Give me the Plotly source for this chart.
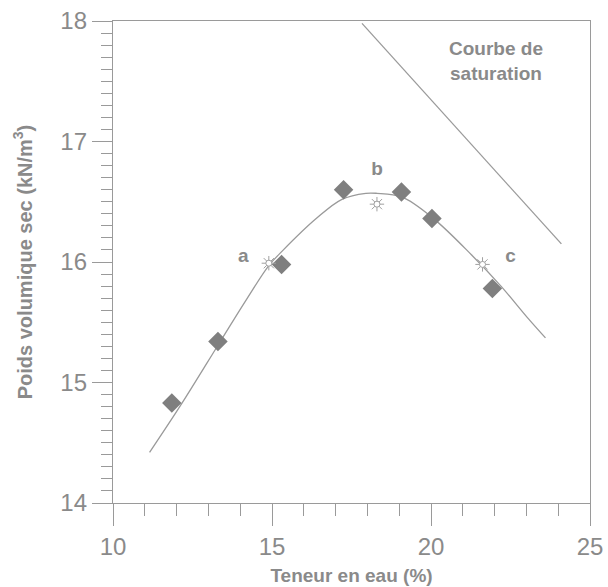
import plotly.graph_objects as go

# Measured points (diamonds)
meas_x = [11.85, 13.3, 15.3, 17.25, 19.07, 20.03, 21.93]
meas_y = [14.83, 15.34, 15.98, 16.6, 16.58, 16.36, 15.78]

# Points a, b, c (open star markers)
abc_x = [14.9, 18.3, 21.62]
abc_y = [15.99, 16.48, 15.98]
abc_labels = ["a", "b", "c"]
abc_label_x = [14.1, 18.3, 22.5]
abc_label_y = [16.04, 16.76, 16.04]

# Compaction curve
curve_x = [11.15, 12.15, 13.35, 14.2, 14.9, 15.32, 16.39, 17.2, 17.95, 18.3, 19.08, 20.08, 21.27, 22.2, 23.06, 23.6]
curve_y = [14.42, 14.82, 15.33, 15.69, 15.97, 16.09, 16.36, 16.52, 16.57, 16.57, 16.54, 16.36, 16.06, 15.80, 15.53, 15.37]

# Saturation line
sat_x = [17.83, 24.1]
sat_y = [17.98, 16.15]

x_ticks = [10, 15, 20, 25]
y_ticks = [14, 15, 16, 17, 18]

GRAY_TXT = "#8a8a8a"
GRAY_LINE = "#9a9a9a"
FONT = "Liberation Sans, Arial, sans-serif"

fig = go.Figure()
fig.add_trace(go.Scatter(x=curve_x, y=curve_y, mode="lines",
                         line=dict(color=GRAY_LINE, width=1.3, shape="spline", smoothing=1.0),
                         hoverinfo="skip", showlegend=False))
fig.add_trace(go.Scatter(x=sat_x, y=sat_y, mode="lines",
                         line=dict(color=GRAY_LINE, width=1.3),
                         hoverinfo="skip", showlegend=False))
fig.add_trace(go.Scatter(x=meas_x, y=meas_y, mode="markers",
                         marker=dict(symbol="diamond", size=15, color="#7f7f7f",
                                     line=dict(width=0)),
                         showlegend=False))
fig.add_trace(go.Scatter(x=abc_x, y=abc_y, mode="markers",
                         marker=dict(symbol="asterisk-open", size=12, color="#a0a0a0",
                                     line=dict(color="#a0a0a0", width=1)),
                         showlegend=False))
fig.add_trace(go.Scatter(x=abc_x, y=abc_y, mode="markers",
                         marker=dict(symbol="circle", size=6, color="white",
                                     line=dict(color="#a0a0a0", width=1)),
                         showlegend=False))
fig.add_trace(go.Scatter(x=abc_label_x, y=abc_label_y, mode="text", text=abc_labels,
                         textfont=dict(family=FONT, size=19, color=GRAY_TXT, weight="bold"),
                         showlegend=False))

fig.add_annotation(x=22.05, y=17.67, xref="x", yref="y",
                   text="Courbe de<br>saturation", showarrow=False,
                   font=dict(family=FONT, size=19, color=GRAY_TXT, weight="bold"),
                   align="center")

fig.update_layout(
    width=608, height=587,
    margin=dict(l=113, r=18, t=21, b=84),
    paper_bgcolor="white", plot_bgcolor="white",
    font=dict(family=FONT, color=GRAY_TXT),
    showlegend=False,
)
fig.update_xaxes(
    range=[10, 25], tickvals=x_ticks, ticktext=[str(v) for v in x_ticks],
    showgrid=False, zeroline=False,
    showline=True, linecolor=GRAY_LINE, linewidth=1.3, mirror=True,
    ticks="outside", ticklen=22, tickcolor=GRAY_LINE, tickwidth=1.2,
    tickfont=dict(family=FONT, size=24, color=GRAY_TXT),
    ticklabeloverflow="allow",
    minor=dict(dtick=1, ticks="outside", ticklen=12, tickcolor=GRAY_LINE, tickwidth=1.2),
    title=dict(text="Teneur en eau (%)", standoff=9,
               font=dict(family=FONT, size=19, color=GRAY_TXT, weight="bold")),
    automargin=False,
)
fig.update_yaxes(
    range=[14, 18], tickvals=y_ticks, ticktext=[str(v) for v in y_ticks],
    showgrid=False, zeroline=False,
    showline=True, linecolor=GRAY_LINE, linewidth=1.3, mirror=True,
    ticks="outside", ticklen=20, tickcolor=GRAY_LINE, tickwidth=1.2,
    tickfont=dict(family=FONT, size=24, color=GRAY_TXT),
    ticklabeloverflow="allow",
    minor=dict(dtick=0.1, ticks="outside", ticklen=11, tickcolor=GRAY_LINE, tickwidth=1.2),
    title=dict(text="Poids volumique sec (kN/m<sup>3</sup>)", standoff=22,
               font=dict(family=FONT, size=20, color=GRAY_TXT, weight="bold")),
    automargin=False,
)

fig.write_html("out.html", config={"displayModeBar": False},
               post_script="document.body.style.margin='0';")
